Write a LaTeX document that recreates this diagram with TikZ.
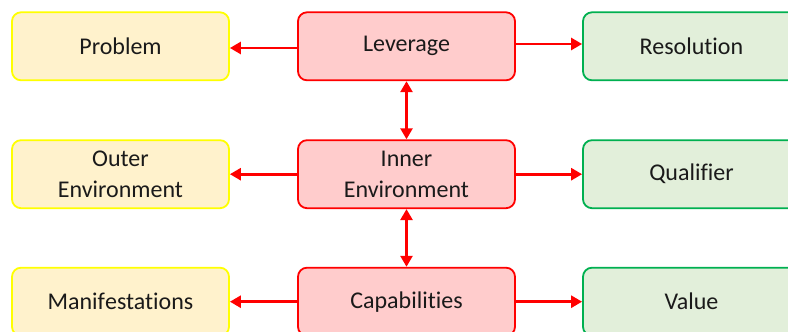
\documentclass[tikz,border=0pt]{standalone}
\usepackage{fontspec}
\setmainfont[RawFeature={-liga;-clig;-calt;-dlig}]{Carlito}
\usetikzlibrary{arrows.meta}
\definecolor{yfill}{HTML}{FFF2CC}
\definecolor{yline}{HTML}{FFFF00}
\definecolor{rfill}{HTML}{FFCCCC}
\definecolor{rline}{HTML}{FF0000}
\definecolor{gfill}{HTML}{E2EFDA}
\definecolor{gline}{HTML}{00B050}
\definecolor{txt}{HTML}{1A1A1A}
% keep f-i and t-i as separate letters
\newcommand{\nolig}{\kern0pt}
\tikzset{
  box/.style={rectangle, rounded corners=9pt, line width=1.8pt,
    minimum width=217pt, minimum height=68pt, align=center,
    text=txt, font=\fontsize{24}{31}\selectfont, inner sep=0pt},
  outerbox/.style={box, draw=yline, fill=yfill},
  corebox/.style={box, draw=rline, fill=rfill},
  resultbox/.style={box, draw=gline, fill=gfill},
  link/.style={draw=rline, line width=2.6pt,
    -{Triangle[length=11pt,width=12pt]}},
  twoway/.style={draw=rline, line width=2.6pt,
    {Triangle[length=11pt,width=12pt]}-{Triangle[length=11pt,width=12pt]}}
}
\begin{document}
\begin{tikzpicture}[x=1pt,y=1pt]
\useasboundingbox (0,0) rectangle (788,-332);
\clip (0,0) rectangle (788,-332);
\fill[white] (0,0) rectangle (788,-332);

% left column
\node[outerbox] (prob)  at (120.5,-46.3)  {Problem};
\node[outerbox] (outer) at (120.5,-174.2) {Outer\\Environment};
\node[outerbox] (mani)  at (120.5,-301.7) {Manif\nolig estat\nolig ions};

% centre column
\node[corebox] (lev)   at (406.5,-46.3)  {Leverage};
\node[corebox] (inner) at (406.5,-174.2) {Inner\\Environment};
\node[corebox] (cap)   at (406.5,-301.7) {Capabilit\nolig ies};

% right column
\node[resultbox] (res)  at (691.5,-46.3)  {Resolution};
\node[resultbox] (qual) at (691.5,-174.2) {Qualif\nolig ier};
\node[resultbox] (val)  at (691.5,-301.7) {Value};

% horizontal connectors
\draw[link] ([yshift=-1.7pt]lev.west) -- ([yshift=-1.7pt]prob.east);
\draw[link] ([yshift=2.3pt]lev.east) -- ([yshift=2.3pt]res.west);
\draw[link] (inner.west) -- (outer.east);
\draw[link] (inner.east) -- (qual.west);
\draw[link] (cap.west) -- (mani.east);
\draw[link] (cap.east) -- (val.west);

% vertical connectors
\draw[twoway] (lev.south) -- (inner.north);
\draw[twoway] (inner.south) -- (cap.north);
\end{tikzpicture}
\end{document}
